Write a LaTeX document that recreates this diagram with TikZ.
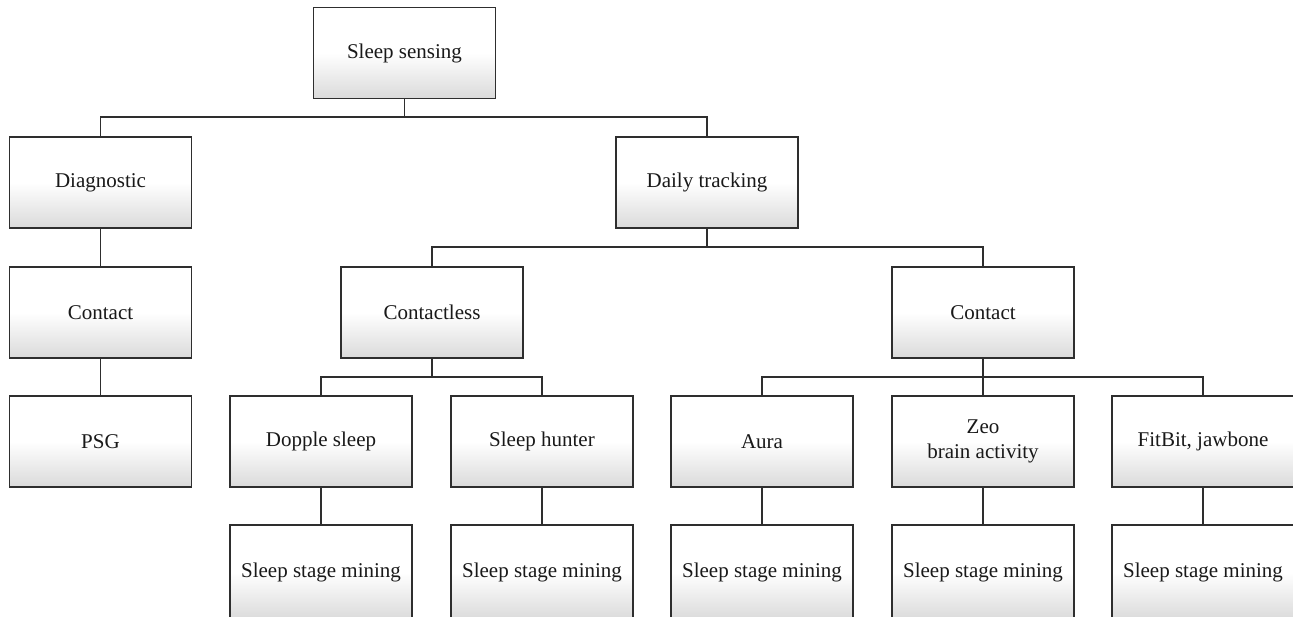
\documentclass[tikz,border=0pt]{standalone}
\usepackage{fontspec}
\setmainfont{Liberation Serif}
\definecolor{edgecol}{HTML}{2E2E2E}
\definecolor{shadecol}{HTML}{DADADA}
\tikzset{
  boxnode/.style={draw=edgecol, line width=1.2pt, top color=white, bottom color=shadecol, middle color=white,
    minimum width=182pt, minimum height=91pt, inner sep=0pt, align=center,
    font=\fontsize{21}{25}\selectfont, text=black!90},
  lastbox/.style={boxnode, minimum height=95pt},
  link/.style={draw=edgecol, line width=1.2pt}
}
\begin{document}
\begin{tikzpicture}[x=1pt,y=-1pt]
\useasboundingbox (0,0) rectangle (1293,616);
\clip (0,0) rectangle (1293,616);
\node[boxnode] (ss) at (404.5,53) {Sleep sensing};
\node[boxnode] (diag) at (100.5,182.5) {Diagnostic};
\node[boxnode] (daily) at (707,182.5) {Daily tracking};
\node[boxnode] (contactL) at (100.5,312.5) {Contact};
\node[boxnode] (psg) at (100.5,441.5) {PSG};
\node[boxnode] (contactless) at (432,312.5) {Contactless};
\node[boxnode] (contactR) at (983,312.5) {Contact};
\node[boxnode] (doppler) at (321,441.5) {Dopple sleep};
\node[boxnode] (hunter) at (542,441.5) {Sleep hunter};
\node[boxnode] (aura) at (762,441.5) {Aura};
\node[boxnode] (zeo) at (983,441.5) {Zeo\\brain activity};
\node[boxnode] (fitbit) at (1203,441.5) {FitBit, jawbone};
\node[lastbox] (m1) at (321,572.5) {Sleep stage mining};
\node[lastbox] (m2) at (542,572.5) {Sleep stage mining};
\node[lastbox] (m3) at (762,572.5) {Sleep stage mining};
\node[lastbox] (m4) at (983,572.5) {Sleep stage mining};
\node[lastbox] (m5) at (1203,572.5) {Sleep stage mining};
% level 1
\draw[link] (ss.south) -- (ss.south|-0,117);
\draw[link] (diag.north) -- (diag.north|-0,117) -- (daily.north|-0,117) -- (daily.north);
% left branch
\draw[link] (diag.south) -- (contactL.north);
\draw[link] (contactL.south) -- (psg.north);
% daily tracking
\draw[link] (daily.south) -- (daily.south|-0,247);
\draw[link] (contactless.north) -- (contactless.north|-0,247) -- (contactR.north|-0,247) -- (contactR.north);
% contactless
\draw[link] (contactless.south) -- (contactless.south|-0,377);
\draw[link] (doppler.north) -- (doppler.north|-0,377) -- (hunter.north|-0,377) -- (hunter.north);
% contact right
\draw[link] (contactR.south) -- (zeo.north);
\draw[link] (aura.north) -- (aura.north|-0,377) -- (fitbit.north|-0,377) -- (fitbit.north);
% mining
\draw[link] (doppler.south) -- (m1.north);
\draw[link] (hunter.south) -- (m2.north);
\draw[link] (aura.south) -- (m3.north);
\draw[link] (zeo.south) -- (m4.north);
\draw[link] (fitbit.south) -- (m5.north);
\end{tikzpicture}
\end{document}
